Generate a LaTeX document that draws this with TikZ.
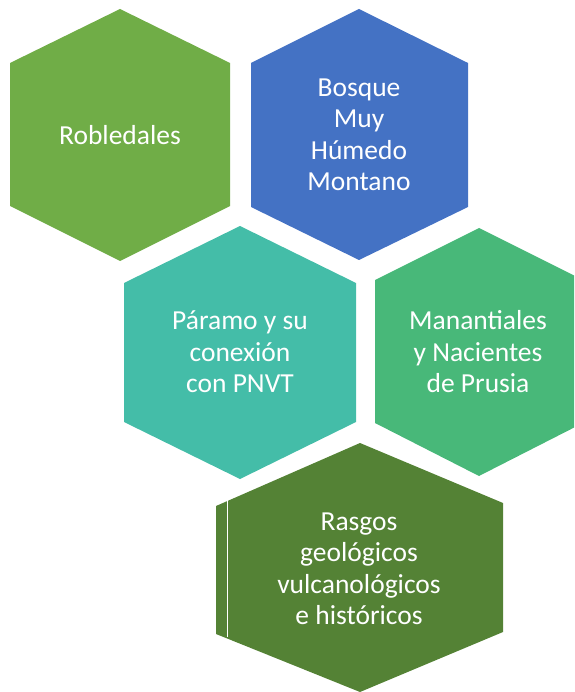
\documentclass[tikz,border=0pt]{standalone}
\usepackage{fontspec}
\setmainfont{Carlito}
\definecolor{robcol}{HTML}{70AD47}
\definecolor{bosqcol}{HTML}{4472C4}
\definecolor{paracol}{HTML}{44BDA8}
\definecolor{manacol}{HTML}{48B879}
\definecolor{rasgcol}{HTML}{548235}
\begin{document}
\begin{tikzpicture}[x=1pt,y=-1pt,
  hexlabel/.style={text=white, font=\fontsize{27.5}{31.5}\selectfont, align=center, inner sep=0pt}]
\useasboundingbox (0,0) rectangle (574,692);
\clip (0,0) rectangle (574,692);
% Robledales
\fill[robcol] (120,9) -- (230,63) -- (230,206) -- (120,261) -- (10,206) -- (10,63) -- cycle;
\node[hexlabel] (rob) at (120,135) {Robledales};
% Bosque
\fill[bosqcol] (359,9) -- (468,63) -- (468,207) -- (359,260) -- (251,207) -- (251,63) -- cycle;
\node[hexlabel] (bosq) at (359,135) {Bosque\\Muy\\Húmedo\\Montano};
% Paramo
\fill[paracol] (240,226) -- (356,283) -- (356,422) -- (240,479) -- (124,422) -- (124,283) -- cycle;
\node[hexlabel] (para) at (240,352) {Páramo y su\\conexión\\con PNVT};
% Manantiales
\fill[manacol] (479,228) -- (583,280) -- (583,423) -- (479,476) -- (375,423) -- (375,280) -- cycle;
\node[hexlabel] (mana) at (478,352) {Manantiales\\y Nacientes\\de Prusia};
% Rasgos
\fill[rasgcol] (360,443) -- (503,503) -- (503,632) -- (360,692) -- (216,634) -- (216,506) -- cycle;
\draw[white, line width=1.2pt] (227.5,499) -- (227.5,637);
\node[hexlabel] (rasg) at (359,569) {Rasgos\\geológicos\\vulcanológicos\\e históricos};
\end{tikzpicture}
\end{document}
